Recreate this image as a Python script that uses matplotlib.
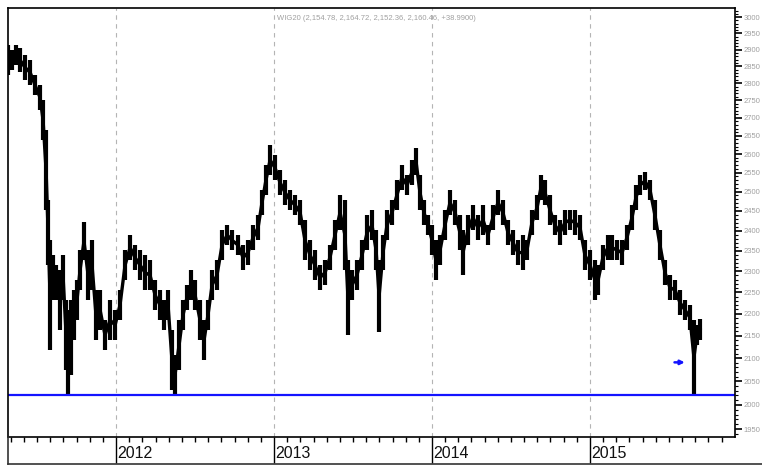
import matplotlib.pyplot as plt
import matplotlib.ticker as mticker
from matplotlib.lines import Line2D
import numpy as np

plt.rcParams['font.family'] = ['Liberation Sans', 'DejaVu Sans']

# ---- data (decimal year, bar high, bar low) ----
years = [2011.316, 2011.342, 2011.367, 2011.392, 2011.424, 2011.456, 2011.487, 2011.519,
         2011.538, 2011.557, 2011.570, 2011.582, 2011.601, 2011.620, 2011.646, 2011.665,
         2011.684, 2011.696, 2011.715, 2011.734, 2011.753, 2011.772, 2011.797, 2011.823,
         2011.848, 2011.873, 2011.899, 2011.930, 2011.962, 2011.994, 2012.025, 2012.057,
         2012.089, 2012.120, 2012.152, 2012.184, 2012.215, 2012.247, 2012.278, 2012.304,
         2012.329, 2012.354, 2012.373, 2012.399, 2012.424, 2012.449, 2012.475, 2012.500,
         2012.532, 2012.557, 2012.582, 2012.608, 2012.639, 2012.671, 2012.703, 2012.734,
         2012.772, 2012.804, 2012.835, 2012.867, 2012.899, 2012.924, 2012.949, 2012.975,
         2013.006, 2013.038, 2013.070, 2013.101, 2013.133, 2013.165, 2013.196, 2013.228,
         2013.259, 2013.291, 2013.323, 2013.354, 2013.386, 2013.418, 2013.449, 2013.468,
         2013.494, 2013.525, 2013.557, 2013.589, 2013.620, 2013.646, 2013.665, 2013.690,
         2013.715, 2013.747, 2013.778, 2013.810, 2013.842, 2013.873, 2013.899, 2013.924,
         2013.949, 2013.975, 2014.000, 2014.025, 2014.051, 2014.082, 2014.114, 2014.146,
         2014.177, 2014.196, 2014.228, 2014.259, 2014.291, 2014.323, 2014.354, 2014.386,
         2014.418, 2014.449, 2014.481, 2014.513, 2014.544, 2014.576, 2014.601, 2014.633,
         2014.665, 2014.690, 2014.715, 2014.747, 2014.778, 2014.810, 2014.842, 2014.873,
         2014.905, 2014.937, 2014.968, 2015.000, 2015.032, 2015.051, 2015.082, 2015.114,
         2015.139, 2015.171, 2015.203, 2015.234, 2015.266, 2015.291, 2015.316, 2015.348,
         2015.380, 2015.411, 2015.443, 2015.475, 2015.506, 2015.538, 2015.570, 2015.601,
         2015.633, 2015.658, 2015.677, 2015.696]
highs = [2914, 2899, 2914, 2905, 2884, 2869, 2824, 2795,
         2751, 2666, 2478, 2376, 2339, 2315, 2303, 2339,
         2232, 2209, 2232, 2255, 2279, 2351, 2421, 2351,
         2376, 2255, 2255, 2186, 2232, 2209, 2255, 2351,
         2389, 2364, 2351, 2339, 2327, 2279, 2255, 2232,
         2255, 2163, 2107, 2186, 2232, 2267, 2303, 2279,
         2232, 2186, 2232, 2303, 2327, 2401, 2414, 2401,
         2389, 2364, 2376, 2414, 2439, 2504, 2570, 2625,
         2597, 2557, 2530, 2504, 2491, 2478, 2426, 2376,
         2351, 2315, 2327, 2364, 2426, 2491, 2478, 2327,
         2303, 2327, 2376, 2439, 2452, 2401, 2327, 2389,
         2452, 2478, 2530, 2570, 2543, 2584, 2616, 2543,
         2478, 2439, 2414, 2376, 2389, 2452, 2504, 2478,
         2439, 2401, 2439, 2465, 2439, 2465, 2414, 2465,
         2504, 2478, 2426, 2401, 2376, 2389, 2376, 2452,
         2491, 2543, 2530, 2491, 2439, 2426, 2452, 2452,
         2452, 2439, 2376, 2351, 2327, 2315, 2364, 2389,
         2389, 2376, 2376, 2414, 2465, 2517, 2543, 2551,
         2530, 2478, 2401, 2327, 2291, 2279, 2255, 2232,
         2220, 2186, 2174, 2188]
lows = [2824, 2839, 2854, 2833, 2809, 2795, 2766, 2722,
        2638, 2452, 2315, 2118, 2232, 2232, 2163, 2232,
        2074, 2021, 2063, 2140, 2186, 2255, 2327, 2232,
        2255, 2140, 2163, 2118, 2140, 2140, 2186, 2279,
        2327, 2303, 2279, 2255, 2255, 2209, 2186, 2163,
        2186, 2031, 2021, 2074, 2163, 2209, 2232, 2209,
        2140, 2096, 2163, 2232, 2255, 2327, 2364, 2351,
        2339, 2303, 2315, 2351, 2376, 2439, 2491, 2543,
        2530, 2491, 2465, 2452, 2439, 2414, 2327, 2303,
        2279, 2255, 2267, 2303, 2351, 2401, 2303, 2151,
        2232, 2255, 2303, 2351, 2376, 2303, 2158, 2303,
        2376, 2414, 2452, 2504, 2491, 2517, 2543, 2452,
        2414, 2389, 2339, 2279, 2315, 2376, 2439, 2414,
        2351, 2291, 2364, 2401, 2376, 2389, 2364, 2401,
        2439, 2414, 2364, 2339, 2315, 2303, 2327, 2389,
        2426, 2478, 2465, 2414, 2389, 2364, 2389, 2401,
        2389, 2376, 2303, 2279, 2232, 2243, 2303, 2327,
        2327, 2327, 2315, 2351, 2401, 2452, 2491, 2504,
        2478, 2401, 2327, 2267, 2232, 2232, 2197, 2186,
        2163, 2021, 2129, 2140]

support_level = 2021
year_ticks = [2012, 2013, 2014, 2015]
price_ticks = list(range(1950, 3001, 50))
title_text = 'WIG20 (2,154.78, 2,164.72, 2,152.36, 2,160.46, +38.9900)'

W, H = 762, 466
fig = plt.figure(figsize=(W / 100, H / 100), dpi=100)
ax = fig.add_axes([8 / W, 1 - 437 / H, (735 - 8) / W, (437 - 8) / H])

yrs = np.array(years)
hi = np.array(highs)
lo = np.array(lows)
mid = np.sqrt(hi * lo)

ax.vlines(yrs, lo, hi, color='black', linewidth=3.0)
ax.plot(yrs, mid, color='black', linewidth=2.4)

# support line and marker arrow
ax.axhline(support_level, color='#1414ff', linewidth=1.6)
ax.annotate('', xy=(2015.600, 2091), xytext=(2015.535, 2091),
            arrowprops=dict(arrowstyle='-|>', color='#1414ff', lw=1.8,
                            mutation_scale=6, shrinkA=0, shrinkB=0))

# year gridlines
for yr in year_ticks:
    ax.axvline(yr, color='#b4b4b4', linestyle=(0, (4, 4)), linewidth=0.8, zorder=0)

ax.set_yscale('log')
ax.set_xlim(2011.316, 2015.918)
ax.set_ylim(1934, 3029)

# right price axis
ax.yaxis.tick_right()
ax.yaxis.set_major_locator(mticker.FixedLocator(price_ticks))
ax.yaxis.set_minor_locator(mticker.FixedLocator(range(1940, 3021, 10)))
ax.yaxis.set_major_formatter(mticker.FixedFormatter([str(p) for p in price_ticks]))
ax.yaxis.set_minor_formatter(mticker.NullFormatter())
ax.tick_params(axis='y', which='major', length=5, width=1.2, pad=1,
               labelsize=5.5, labelcolor='#a0a0a0', direction='out')
ax.tick_params(axis='y', which='minor', length=2.5, width=0.8, direction='out')

# bottom time axis: monthly minor ticks, long year ticks
months = [y + m / 12 for y in range(2011, 2016) for m in range(12)]
months = [m for m in months if 2011.33 < m < 2015.9 and abs(m - round(m)) > 1e-6]
ax.xaxis.set_major_locator(mticker.FixedLocator(year_ticks))
ax.xaxis.set_minor_locator(mticker.FixedLocator(months))
ax.xaxis.set_major_formatter(mticker.NullFormatter())
ax.tick_params(axis='x', which='major', length=19, width=1.0, direction='out')
ax.tick_params(axis='x', which='minor', length=3.5, width=1.0, direction='out')
for yr in year_ticks:
    ax.text(yr + 0.006, -0.038, str(yr), transform=ax.get_xaxis_transform(),
            ha='left', va='center', fontsize=11.5, color='#111111')

for s in ax.spines.values():
    s.set_linewidth(1.2)

# frame around the time axis strip
fig.add_artist(Line2D([8 / W, 1], [1 - 464 / H] * 2, color='#333333', lw=1.2))
fig.add_artist(Line2D([8 / W] * 2, [1 - 464 / H, 1 - 437 / H], color='#333333', lw=1.2))

fig.text(376 / W, 1 - 18 / H, title_text, ha='center', va='center',
         fontsize=5.5, color='#a0a0a0')

fig.savefig('out.png', dpi=100)
